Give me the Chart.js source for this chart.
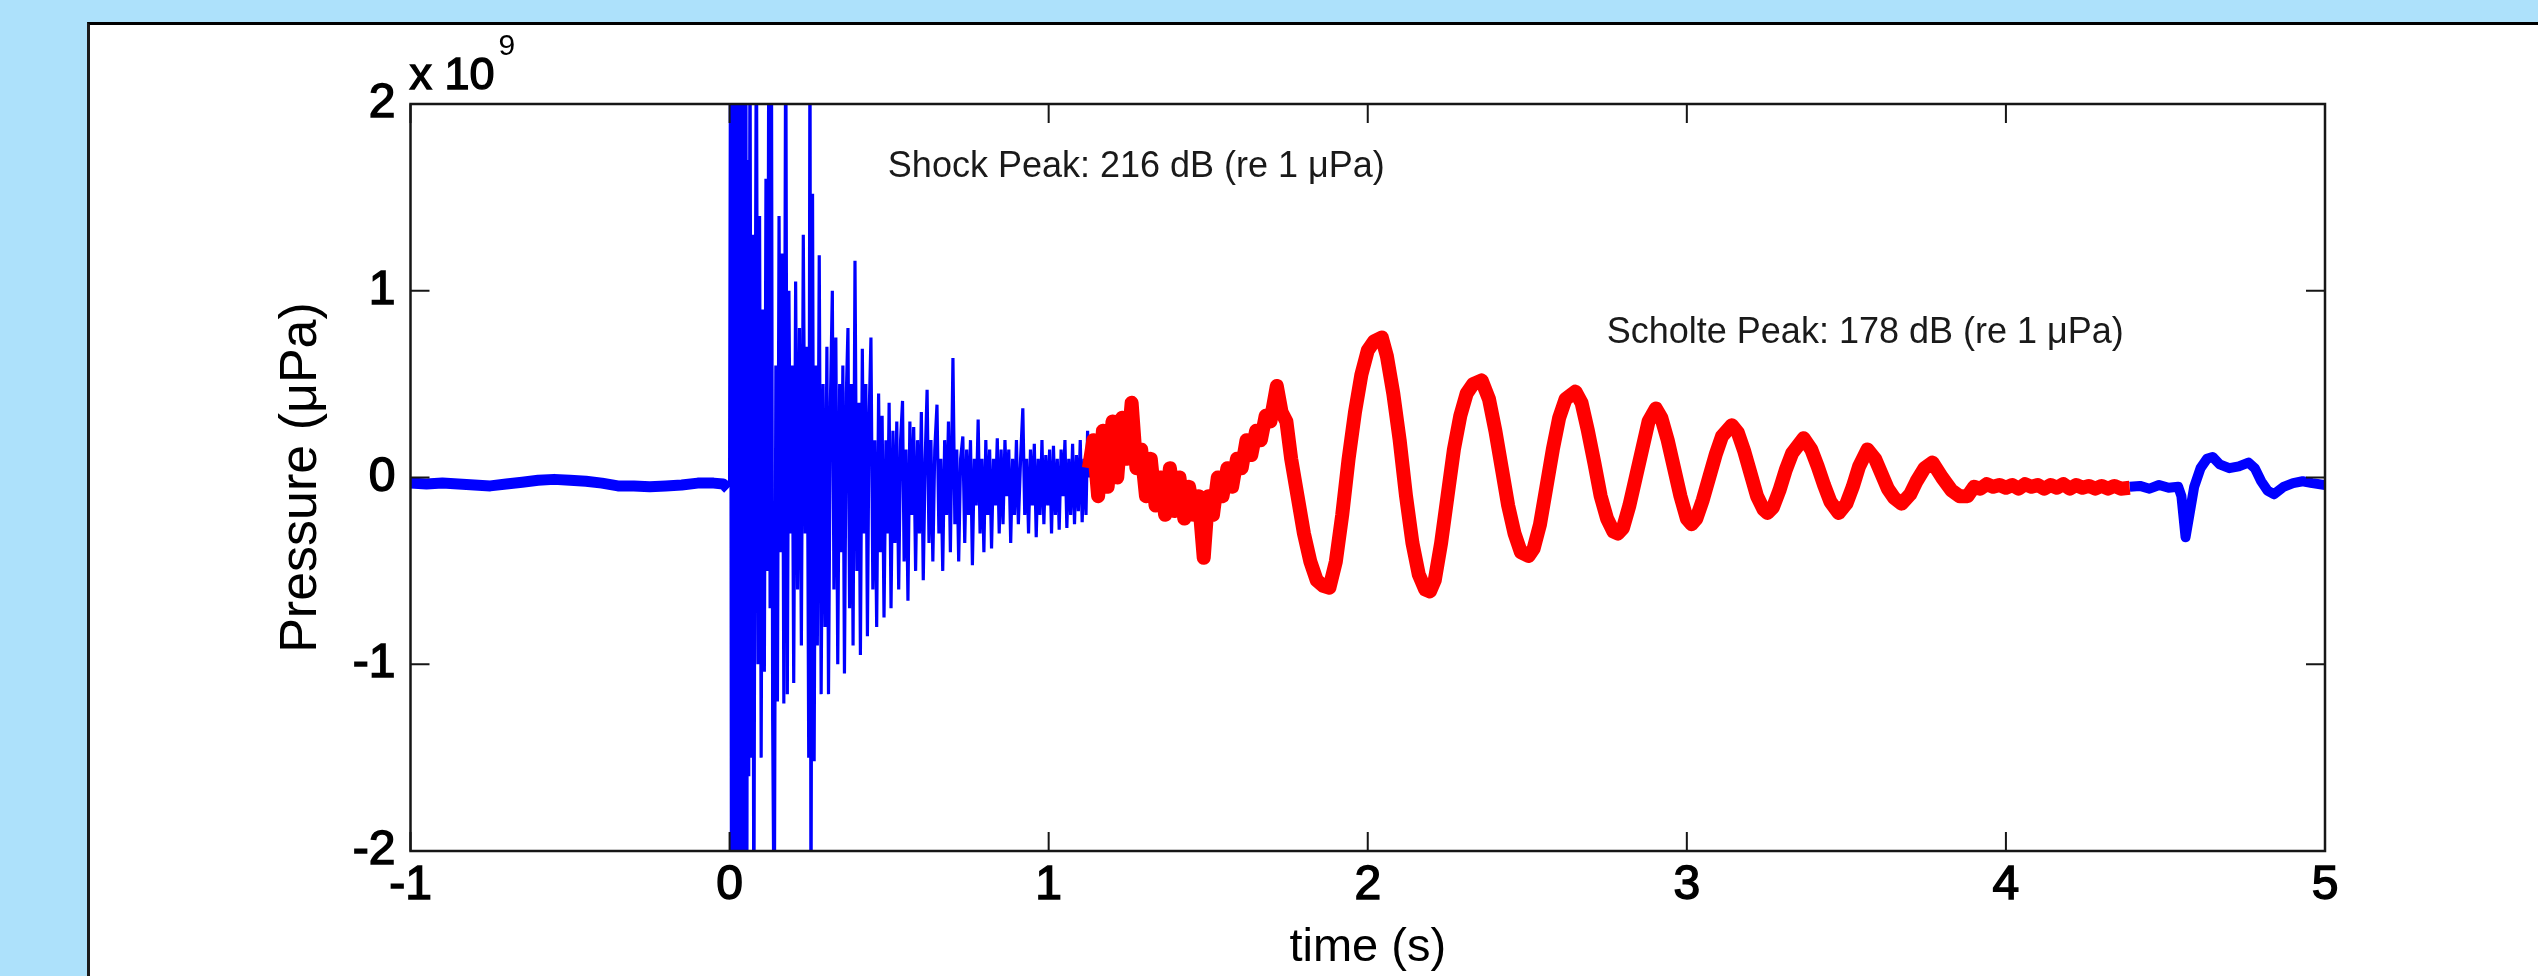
<!DOCTYPE html>
<html>
<head>
<meta charset="utf-8">
<script src="https://cdn.jsdelivr.net/npm/chart.js@4.4.1/dist/chart.umd.min.js"></script>
<style>
  html, body { margin: 0; padding: 0; }
  body { width: 2538px; height: 976px; background: #ade1fb; position: relative; overflow: hidden; }
  #panel { position: absolute; left: 87px; top: 22px; right: 0; bottom: 0; background: #fff;
           border-top: 3px solid #000; border-left: 3px solid #1c1c1c; }
  #plot { position: absolute; left: 0; top: 0; }
</style>
</head>
<body>
<div id="panel"></div>
<canvas id="plot" width="2538" height="976"></canvas>
<script>
// time in s, pressure in units of 1e9 µPa
const preEvent = [
  [-1.00,-0.03],[-0.95,-0.035],[-0.90,-0.03],[-0.85,-0.035],[-0.80,-0.04],[-0.75,-0.045],
  [-0.70,-0.035],[-0.65,-0.025],[-0.60,-0.015],[-0.55,-0.01],[-0.50,-0.015],[-0.45,-0.02],
  [-0.40,-0.03],[-0.35,-0.045],[-0.30,-0.045],[-0.25,-0.05],[-0.20,-0.045],[-0.15,-0.04],
  [-0.10,-0.03],[-0.05,-0.03],[-0.02,-0.035],[-0.005,-0.06]
];

const shockWave = [
  [0.000,-0.05],[0.003,2.6],[0.006,-2.6],[0.009,2.6],[0.012,-2.6],[0.015,2.6],[0.018,-2.6],
  [0.021,2.6],[0.024,-2.6],[0.027,2.6],[0.030,-2.6],[0.033,2.6],[0.036,-2.6],[0.039,2.6],
  [0.042,-2.6],[0.045,2.6],[0.048,-2.6],[0.051,2.6],[0.054,-2.6],[0.057,1.7],[0.060,-1.6],
  [0.064,2.6],[0.068,-1.5],[0.072,1.3],[0.076,-2.6],[0.080,0.4],[0.084,2.6],[0.089,-1.0],
  [0.094,1.4],[0.099,-1.5],[0.104,0.9],[0.109,-1.04],[0.114,1.6],[0.119,-0.5],[0.123,2.6],
  [0.127,-0.7],[0.131,2.6],[0.135,-1.3],[0.140,-2.6],[0.145,0.6],[0.150,-1.2],[0.155,1.4],
  [0.160,-0.4],[0.165,1.2],[0.170,-1.21],[0.176,2.6],[0.181,-1.16],[0.186,1.0],[0.191,-0.3],
  [0.196,0.6],[0.201,-1.1],[0.207,1.05],[0.213,-0.6],[0.219,0.8],[0.225,-0.9],[0.231,1.3],
  [0.237,-0.3],[0.243,0.7],[0.248,-1.5],[0.252,2.6],[0.255,-2.6],[0.260,1.52],[0.265,-1.52],
  [0.270,0.6],[0.275,-0.9],[0.281,1.19],[0.287,-1.16],[0.293,0.5],[0.299,-0.8],[0.305,0.7],
  [0.310,-1.16],[0.316,0.4],[0.322,1.0],[0.327,-0.6],[0.333,0.75],[0.339,-1.0],[0.345,0.5],
  [0.350,-0.4],[0.355,0.6],[0.360,-1.05],[0.366,0.45],[0.371,0.80],[0.376,-0.7],[0.382,0.5],
  [0.387,-0.9],[0.393,1.16],[0.399,-0.5],[0.405,0.4],[0.410,-0.95],[0.416,0.69],[0.421,-0.3],
  [0.427,0.5],[0.432,-0.85],[0.437,0.3],[0.443,0.75],[0.449,-0.6],[0.455,0.2],[0.461,-0.8],
  [0.467,0.45],[0.473,-0.4],[0.478,0.33],[0.484,-0.75],[0.490,0.2],[0.495,-0.3],[0.500,0.4],
  [0.506,-0.7],[0.512,0.25],[0.518,-0.35],[0.524,0.3],[0.530,-0.6],[0.536,0.2],[0.542,0.41],
  [0.547,-0.45],[0.553,0.15],[0.559,-0.66],[0.565,0.3],[0.571,-0.2],[0.577,0.27],[0.583,-0.5],
  [0.589,0.2],[0.595,-0.3],[0.601,0.35],[0.607,-0.55],[0.613,0.1],[0.619,0.47],[0.625,-0.35],
  [0.631,0.2],[0.637,-0.45],[0.643,0.15],[0.650,0.39],[0.656,-0.3],[0.662,0.1],[0.668,-0.5],
  [0.674,0.2],[0.680,-0.2],[0.686,0.3],[0.692,-0.4],[0.700,0.64],[0.706,-0.25],[0.712,0.15],
  [0.718,-0.45],[0.724,0.1],[0.731,0.22],[0.737,-0.35],[0.743,0.15],[0.749,-0.2],[0.755,0.2],
  [0.761,-0.47],[0.767,0.1],[0.773,-0.15],[0.779,0.31],[0.785,-0.3],[0.791,0.1],[0.797,-0.4],
  [0.803,0.2],[0.809,-0.2],[0.815,0.15],[0.821,-0.38],[0.827,0.1],[0.833,-0.15],[0.839,0.21],
  [0.845,-0.3],[0.851,0.15],[0.857,-0.25],[0.863,0.2],[0.869,-0.1],[0.875,0.15],[0.881,-0.35],
  [0.887,0.1],[0.893,-0.2],[0.899,0.2],[0.905,-0.25],[0.912,0.1],[0.919,0.37],[0.925,-0.2],
  [0.931,0.1],[0.937,-0.3],[0.943,0.15],[0.949,-0.15],[0.955,0.18],[0.961,-0.32],[0.967,0.1],
  [0.973,-0.2],[0.979,0.2],[0.985,-0.25],[0.991,0.12],[0.997,-0.15],[1.003,0.15],[1.009,-0.3],
  [1.015,0.17],[1.021,-0.2],[1.027,0.1],[1.033,-0.28],[1.039,0.15],[1.045,-0.1],[1.051,0.2],
  [1.057,-0.27],[1.063,0.1],[1.069,-0.2],[1.075,0.18],[1.081,-0.25],[1.087,0.12],[1.093,-0.18],
  [1.099,0.2],[1.105,-0.24],[1.111,0.1],[1.117,-0.2],[1.122,0.25],[1.126,0.0]
];

const scholteWave = [
  [1.126,0.05],[1.14,0.2],[1.155,-0.1],[1.17,0.25],[1.185,-0.05],[1.20,0.3],[1.215,0.0],
  [1.23,0.32],[1.245,0.1],[1.26,0.40],[1.275,0.05],[1.29,0.15],[1.305,-0.1],[1.32,0.1],
  [1.335,-0.15],[1.35,0.0],[1.365,-0.2],[1.38,0.05],[1.395,-0.18],[1.41,0.0],[1.425,-0.22],
  [1.44,-0.05],[1.455,-0.2],[1.47,-0.1],[1.486,-0.43],[1.50,-0.1],[1.515,-0.2],[1.53,0.0],
  [1.545,-0.1],[1.56,0.05],[1.575,-0.05],[1.59,0.1],[1.605,0.05],[1.62,0.2],[1.635,0.12],
  [1.65,0.25],[1.665,0.2],[1.68,0.33],[1.695,0.3],[1.715,0.49],[1.73,0.35],[1.745,0.3],
  [1.76,0.1],[1.78,-0.1],[1.80,-0.3],[1.82,-0.45],[1.84,-0.55],[1.86,-0.58],[1.88,-0.59],
  [1.90,-0.45],[1.92,-0.2],[1.94,0.1],[1.96,0.35],[1.98,0.55],[2.00,0.68],[2.02,0.73],
  [2.044,0.75],[2.06,0.65],[2.08,0.45],[2.10,0.2],[2.12,-0.1],[2.14,-0.35],[2.16,-0.52],
  [2.18,-0.6],[2.195,-0.61],[2.21,-0.55],[2.23,-0.35],[2.25,-0.1],[2.27,0.15],[2.29,0.33],
  [2.31,0.45],[2.33,0.5],[2.357,0.52],[2.38,0.42],[2.40,0.25],[2.42,0.05],[2.44,-0.15],
  [2.46,-0.3],[2.48,-0.4],[2.504,-0.42],[2.52,-0.38],[2.54,-0.25],[2.56,-0.05],[2.58,0.15],
  [2.60,0.32],[2.62,0.42],[2.651,0.46],[2.67,0.4],[2.69,0.25],[2.71,0.08],[2.73,-0.1],
  [2.75,-0.22],[2.77,-0.29],[2.784,-0.30],[2.80,-0.27],[2.82,-0.15],[2.84,0.0],[2.86,0.15],
  [2.88,0.3],[2.903,0.37],[2.92,0.32],[2.94,0.2],[2.96,0.05],[2.98,-0.1],[3.00,-0.22],
  [3.015,-0.25],[3.03,-0.22],[3.05,-0.12],[3.07,0.0],[3.09,0.12],[3.11,0.22],[3.141,0.28],
  [3.16,0.24],[3.18,0.14],[3.20,0.02],[3.22,-0.1],[3.24,-0.17],[3.253,-0.19],[3.27,-0.16],
  [3.29,-0.07],[3.31,0.04],[3.33,0.13],[3.366,0.21],[3.39,0.15],[3.41,0.06],[3.43,-0.04],
  [3.45,-0.13],[3.476,-0.19],[3.50,-0.14],[3.52,-0.05],[3.54,0.06],[3.566,0.15],[3.59,0.1],
  [3.61,0.02],[3.63,-0.06],[3.65,-0.11],[3.673,-0.14],[3.70,-0.09],[3.72,-0.02],[3.745,0.05],
  [3.77,0.08],[3.80,0.0],[3.83,-0.07],[3.855,-0.1],[3.88,-0.1],[3.90,-0.05],[3.92,-0.06],
  [3.94,-0.035],[3.96,-0.05],[3.98,-0.04],[4.00,-0.055],[4.02,-0.04],[4.04,-0.06],[4.06,-0.035],
  [4.08,-0.05],[4.10,-0.04],[4.12,-0.06],[4.14,-0.04],[4.16,-0.055],[4.18,-0.035],[4.20,-0.06],
  [4.22,-0.04],[4.24,-0.055],[4.26,-0.045],[4.28,-0.06],[4.30,-0.045],[4.32,-0.06],[4.34,-0.045],
  [4.36,-0.06],[4.388,-0.055]
];

const tailWave = [
  [4.388,-0.05],[4.42,-0.045],[4.45,-0.06],[4.48,-0.04],[4.51,-0.055],[4.54,-0.05],[4.55,-0.1],
  [4.563,-0.32],[4.575,-0.2],[4.59,-0.05],[4.61,0.05],[4.63,0.1],[4.648,0.11],[4.67,0.07],
  [4.70,0.05],[4.73,0.06],[4.76,0.08],[4.78,0.05],[4.80,-0.02],[4.82,-0.07],[4.84,-0.09],
  [4.87,-0.05],[4.90,-0.03],[4.93,-0.02],[4.96,-0.03],[5.00,-0.04]
];

const xTicks = [-1, 0, 1, 2, 3, 4, 5];
const yTicks = [-2, -1, 0, 1, 2];

const peakNotes = [
  { t: 0.496, p: 1.609, text: 'Shock Peak: 216 dB (re 1 μPa)' },
  { t: 2.749, p: 0.72, text: 'Scholte Peak: 178 dB (re 1 μPa)' }
];

const FONT = '"Liberation Sans", Arial, Helvetica, sans-serif';
const toXY = rows => rows.map(r => ({ x: r[0], y: r[1] }));

// box, inward ticks, exponent and peak labels drawn over the traces
const matlabAxes = {
  id: 'matlabAxes',
  afterDatasetsDraw(chart) {
    const { ctx, chartArea: a, scales: { x, y } } = chart;
    ctx.save();
    ctx.strokeStyle = '#161616';
    ctx.lineWidth = 2;
    ctx.beginPath();
    xTicks.forEach(v => {
      const px = x.getPixelForValue(v);
      ctx.moveTo(px, a.bottom); ctx.lineTo(px, a.bottom - 19);
      ctx.moveTo(px, a.top); ctx.lineTo(px, a.top + 19);
    });
    yTicks.forEach(v => {
      const py = y.getPixelForValue(v);
      ctx.moveTo(a.left, py); ctx.lineTo(a.left + 19, py);
      ctx.moveTo(a.right, py); ctx.lineTo(a.right - 19, py);
    });
    ctx.stroke();
    ctx.lineWidth = 2.5;
    ctx.strokeRect(a.left, a.top, a.right - a.left, a.bottom - a.top);

    // axis multiplier, slightly heavier like the tick numbers
    ctx.fillStyle = '#000';
    ctx.strokeStyle = '#000';
    ctx.lineWidth = 1.4;
    ctx.textAlign = 'left';
    ctx.textBaseline = 'alphabetic';
    ctx.font = '45px ' + FONT;
    ctx.fillText('x 10', a.left - 1, a.top - 15);
    ctx.strokeText('x 10', a.left - 1, a.top - 15);
    const w = ctx.measureText('x 10').width;
    ctx.font = '30px ' + FONT;
    ctx.fillText('9', a.left + w + 3, a.top - 49);

    ctx.fillStyle = '#1a1a1a';
    ctx.font = '36px ' + FONT;
    peakNotes.forEach(n => ctx.fillText(n.text, x.getPixelForValue(n.t), y.getPixelForValue(n.p)));
    ctx.restore();
  }
};

const tickFont = { family: FONT, size: 48 };
const tickStyle = { color: '#000', font: tickFont, textStrokeColor: '#000', textStrokeWidth: 1.5 };

new Chart(document.getElementById('plot'), {
  type: 'line',
  data: {
    datasets: [
      { data: toXY(scholteWave), borderColor: '#ff0000', borderWidth: 14, borderJoinStyle: 'round', order: 0 },
      { data: toXY(preEvent), borderColor: '#0000ff', borderWidth: 11, borderJoinStyle: 'round', order: 1 },
      { data: toXY(shockWave), borderColor: '#0000ff', borderWidth: 3.2, borderJoinStyle: 'bevel', order: 1 },
      { data: toXY(tailWave), borderColor: '#0000ff', borderWidth: 10, borderJoinStyle: 'round', order: 1 }
    ]
  },
  options: {
    responsive: false,
    animation: false,
    events: [],
    layout: { padding: { left: 270, right: 213, top: 104, bottom: 0 } },
    datasets: { line: { pointRadius: 0, tension: 0, clip: 0, fill: false } },
    plugins: { legend: { display: false }, tooltip: { enabled: false } },
    scales: {
      x: {
        type: 'linear', min: -1, max: 5,
        afterBuildTicks: s => { s.ticks = xTicks.map(v => ({ value: v })); },
        afterFit: s => { s.height = 125; },
        grid: { display: false, drawTicks: false },
        border: { display: false },
        ticks: { ...tickStyle, padding: 6, autoSkip: false, maxRotation: 0 },
        title: { display: true, text: 'time (s)', color: '#000', font: { family: FONT, size: 47 }, padding: 0 }
      },
      y: {
        type: 'linear', min: -2, max: 2,
        afterBuildTicks: s => { s.ticks = yTicks.map(v => ({ value: v })); },
        afterFit: s => { s.width = 140.5; },
        grid: { display: false, drawTicks: false },
        border: { display: false },
        ticks: { ...tickStyle, padding: 15 },
        title: { display: true, text: 'Pressure (μPa)', color: '#000', font: { family: FONT, size: 52 }, padding: 0 }
      }
    }
  },
  plugins: [matlabAxes]
});
</script>
</body>
</html>
